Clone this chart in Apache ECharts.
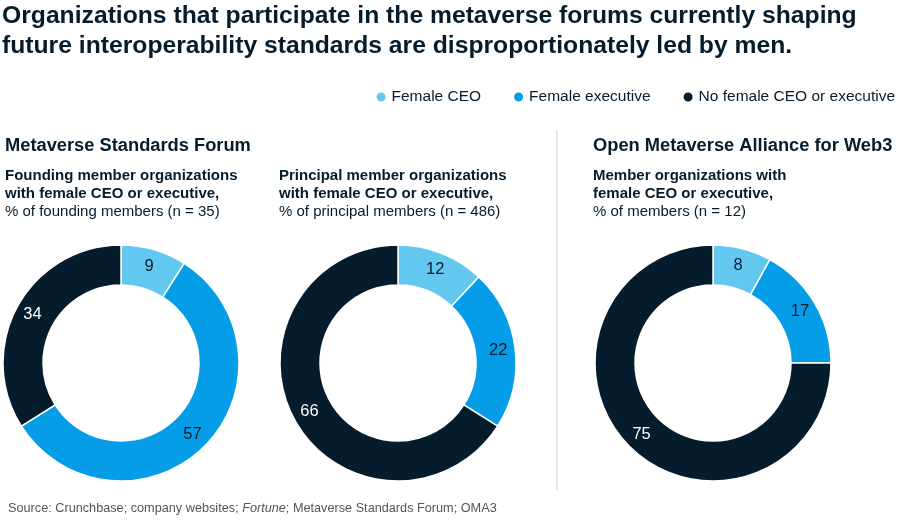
<!DOCTYPE html>
<html><head><meta charset="utf-8">
<script src="https://cdn.jsdelivr.net/npm/echarts@6/dist/echarts.min.js"></script>
<style>html,body{margin:0;padding:0;background:#fff}#c{width:900px;height:524px}</style>
</head><body><div id="c"></div>
<script>
const categories = ['Female CEO', 'Female executive', 'No female CEO or executive'];
const foundingValues = [9, 57, 34];
const principalValues = [12, 22, 66];
const oma3Values = [8, 17, 75];
const colors = ['#63c8f0', '#069de8', '#051c2c'];
const labelColors = ['#051c2c', '#051c2c', '#ffffff'];

const font = '"Liberation Sans", Arial, sans-serif';
const chart = echarts.init(document.getElementById('c'));

function pieSeries(values, cx) {
  return {
    type: 'pie',
    center: [cx, 363],
    radius: [78, 118],
    startAngle: 90,
    clockwise: true,
    silent: true,
    avoidLabelOverlap: false,
    itemStyle: { borderColor: '#ffffff', borderWidth: 1.5 },
    label: { show: true, position: 'inside', formatter: '{c}', fontSize: 16.5, fontFamily: font },
    labelLine: { show: false },
    data: values.map((v, i) => ({
      name: categories[i], value: v,
      itemStyle: { color: colors[i] },
      label: { color: labelColors[i] }
    }))
  };
}

const subBold = { fontSize: 15, fontWeight: 'bold', color: '#051c2c', fontFamily: font, lineHeight: 18 };
const subNorm = { fontSize: 15, fontWeight: 'normal', color: '#051c2c', fontFamily: font, lineHeight: 18 };

chart.setOption({
  animation: false,
  color: colors,
  title: [
    { text: 'Organizations that participate in the metaverse forums currently shaping\nfuture interoperability standards are disproportionately led by men.',
      left: 2, top: 1, padding: 0, textStyle: { fontSize: 24.7, fontWeight: 'bold', color: '#051c2c', fontFamily: font, lineHeight: 30 } },
    { text: 'Metaverse Standards Forum', left: 5, top: 137, padding: 0,
      textStyle: { fontSize: 18.3, fontWeight: 'bold', color: '#051c2c', fontFamily: font } },
    { text: 'Open Metaverse Alliance for Web3', left: 593, top: 137, padding: 0,
      textStyle: { fontSize: 18.3, fontWeight: 'bold', color: '#051c2c', fontFamily: font } },
    { text: '{b|Founding member organizations}\n{b|with female CEO or executive,}\n{n|% of founding members (n = 35)}',
      left: 5, top: 167, padding: 0, textStyle: { rich: { b: subBold, n: subNorm } } },
    { text: '{b|Principal member organizations}\n{b|with female CEO or executive,}\n{n|% of principal members (n = 486)}',
      left: 279, top: 167, padding: 0, textStyle: { rich: { b: subBold, n: subNorm } } },
    { text: '{b|Member organizations with}\n{b|female CEO or executive,}\n{n|% of members (n = 12)}',
      left: 593, top: 167, padding: 0, textStyle: { rich: { b: subBold, n: subNorm } } },
    { text: '{n|Source: Crunchbase; company websites; }{i|Fortune}{n|; Metaverse Standards Forum; OMA3}',
      left: 8, top: 502, padding: 0, textStyle: { rich: {
        n: { fontSize: 12.7, fontWeight: 'normal', color: '#555555', fontFamily: font },
        i: { fontSize: 12.7, fontWeight: 'normal', color: '#555555', fontFamily: font, fontStyle: 'italic' } } } }
  ],
  legend: {
    data: categories, right: 0, top: 84, icon: 'circle', itemWidth: 11, itemHeight: 11, itemGap: 31,
    selectedMode: false,
    textStyle: { fontSize: 15.5, color: '#051c2c', fontFamily: font }
  },
  graphic: [
    { type: 'line', shape: { x1: 557, y1: 130, x2: 557, y2: 490 }, style: { stroke: '#d0d0d0', lineWidth: 1 } }
  ],
  series: [
    pieSeries(foundingValues, 121),
    pieSeries(principalValues, 398),
    pieSeries(oma3Values, 713)
  ]
});
</script></body></html>
